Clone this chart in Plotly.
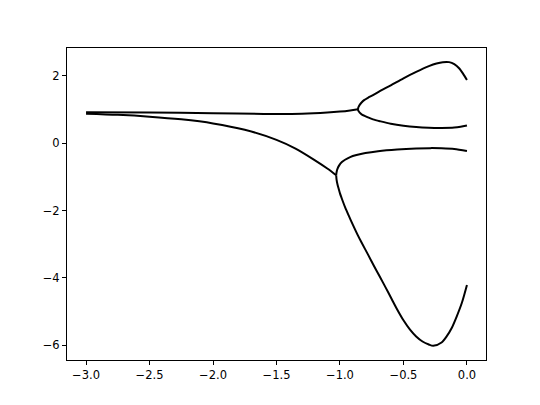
import plotly.graph_objects as go

# branch data (split at the two branch points)
top_left_x = [-3.0, -2.5, -2.0, -1.6, -1.3, -1.1, -1.0, -0.92, -0.858]
top_left_y = [0.92, 0.91, 0.895, 0.87, 0.875, 0.91, 0.94, 0.975, 1.01]

peak_x = [-0.858, -0.855, -0.845, -0.83, -0.81, -0.78, -0.74, -0.68, -0.6, -0.5,
          -0.4, -0.3, -0.24, -0.19, -0.14, -0.1, -0.06, -0.03, 0.0]
peak_y = [1.01, 1.07, 1.14, 1.21, 1.28, 1.35, 1.43, 1.56, 1.72, 1.93,
          2.12, 2.29, 2.37, 2.41, 2.41, 2.35, 2.22, 2.06, 1.88]

mid_x = [-0.858, -0.855, -0.845, -0.83, -0.81, -0.78, -0.74, -0.68, -0.6, -0.5,
         -0.4, -0.3, -0.2, -0.1, -0.05, 0.0]
mid_y = [1.01, 0.96, 0.91, 0.86, 0.82, 0.77, 0.71, 0.65, 0.58, 0.52,
         0.48, 0.46, 0.455, 0.465, 0.49, 0.53]

low_left_x = [-3.0, -2.75, -2.5, -2.25, -2.0, -1.75, -1.5, -1.35, -1.2, -1.1, -1.03]
low_left_y = [0.88, 0.845, 0.79, 0.71, 0.59, 0.40, 0.10, -0.16, -0.50, -0.75, -0.95]

flat_x = [-1.03, -1.027, -1.02, -1.005, -0.985, -0.96, -0.92, -0.87, -0.8, -0.7,
          -0.55, -0.4, -0.29, -0.2, -0.1, 0.0]
flat_y = [-0.95, -0.86, -0.76, -0.65, -0.56, -0.49, -0.41, -0.35, -0.29, -0.235,
          -0.185, -0.155, -0.145, -0.15, -0.17, -0.23]

dip_x = [-1.03, -1.027, -1.02, -1.01, -1.0, -0.98, -0.96, -0.93, -0.9, -0.86,
         -0.83, -0.779, -0.73, -0.687, -0.64, -0.594, -0.555, -0.5, -0.45, -0.4,
         -0.35, -0.3, -0.266, -0.2, -0.16, -0.12, -0.081, -0.04, 0.0]
dip_y = [-0.95, -1.08, -1.22, -1.36, -1.49, -1.70, -1.90, -2.16, -2.41, -2.73,
         -2.95, -3.31, -3.66, -3.96, -4.29, -4.62, -4.9, -5.26, -5.53, -5.74,
         -5.89, -5.98, -6.02, -5.92, -5.74, -5.49, -5.15, -4.74, -4.21]

xticks = [-3.0, -2.5, -2.0, -1.5, -1.0, -0.5, 0.0]
yticks = [2, 0, -2, -4, -6]

fig = go.Figure()
branches = [(top_left_x, top_left_y), (peak_x, peak_y), (mid_x, mid_y),
            (low_left_x, low_left_y), (flat_x, flat_y), (dip_x, dip_y)]
for xs, ys in branches:
    fig.add_trace(go.Scatter(x=xs, y=ys, mode='lines',
                             line=dict(color='black', width=2, shape='spline', smoothing=0.8),
                             showlegend=False))

axis_style = dict(showgrid=False, zeroline=False, showline=True, linecolor='black',
                  linewidth=1, mirror=True, ticks='outside', ticklen=4, tickwidth=1,
                  tickcolor='black', tickfont=dict(family='DejaVu Sans', size=11.5, color='black'))

fig.update_xaxes(range=[-3.15, 0.15], tickvals=xticks,
                 ticktext=[f'{v:.1f}'.replace('-', '\u2212') for v in xticks], **axis_style)
fig.update_yaxes(range=[-6.44, 2.83], tickvals=yticks,
                 ticktext=[str(v).replace('-', '\u2212') for v in yticks], **axis_style)

fig.update_layout(width=540, height=405, plot_bgcolor='white', paper_bgcolor='white',
                  margin=dict(l=59, r=62, t=40, b=53))

fig.write_html("out.html")
